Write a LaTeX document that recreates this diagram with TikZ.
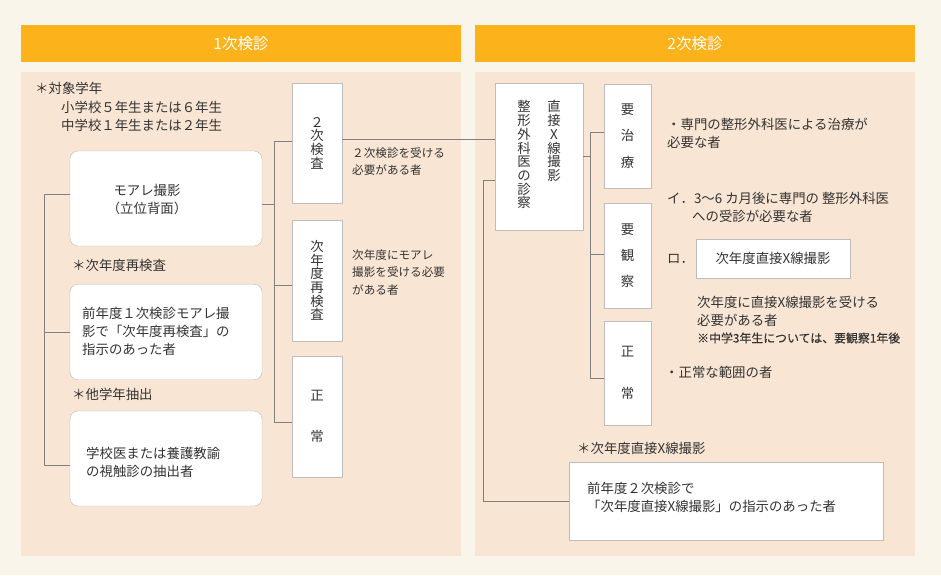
\documentclass[tikz,border=0pt]{standalone}
\usepackage{fontspec}
\setmainfont{Noto Sans CJK JP}
\newfontfamily\notefont[FakeBold=0.25]{Noto Sans CJK JP}
\usetikzlibrary{positioning,calc}
\definecolor{bgcream}{HTML}{FAF5EA}
\definecolor{panel}{HTML}{F8E5D3}
\definecolor{headorange}{HTML}{FBB21B}
\definecolor{boxgray}{HTML}{BDBDBD}
\definecolor{linegray}{HTML}{808080}
\definecolor{txtgray}{HTML}{333333}

\begin{document}
\begin{tikzpicture}[x=1pt,y=-1pt,
  txt/.style={inner sep=0pt,text=txtgray,align=left,font=\fontsize{13.4}{18}\selectfont},
  smalltxt/.style={inner sep=0pt,text=txtgray,align=left,font=\fontsize{11.6}{17.5}\selectfont},
  rbox/.style={draw=boxgray,fill=white,rounded corners=8pt,minimum width=192pt,inner sep=0pt},
  vbox/.style={draw=boxgray,fill=white,inner sep=0pt,text=txtgray,align=center,font=\fontsize{13.4}{13.7}\selectfont},
  conn/.style={draw=linegray,line width=1pt}]

% draw background
\fill[bgcream] (0,0) rectangle (941,575);
\useasboundingbox (0,0) rectangle (941,575);
% draw panels and headers
\foreach \x/\n/\t in {21/h1/1次検診,475/h2/2次検診}{
  \fill[panel] (\x,72) rectangle ++(440,484);
  \node[fill=headorange,text=white,minimum width=440pt,minimum height=37pt,inner sep=0pt,font=\fontsize{15.5}{18}\selectfont] (\n) at (\x+220,43.5) {\t};
}

% draw left nodes
\node[txt,anchor=west] (target) at (35,88) {＊対象学年};
\node[txt,anchor=west] (grades) at (61,116) {小学校５年生または６年生\\中学校１年生または２年生};
\node[rbox,minimum height=95pt] (moare) at (166,198.5) {};
\node[txt,align=center] (moaret) at (147,200) {モアレ撮影\\（立位背面）};
\node[txt,anchor=west] (retitle) at (72,265) {＊次年度再検査};
\node[rbox,minimum height=95.5pt] (prev) at (166,332) {};
\node[txt,anchor=west] (prevt) at (82,331.5) {前年度１次検診モアレ撮\\影で「次年度再検査」の\\指示のあった者};
\node[txt,anchor=west] (extitle) at (72,394) {＊他学年抽出};
\node[rbox,minimum height=95pt] (extract) at (166,458.5) {};
\node[txt,anchor=west] (extractt) at (86,462) {学校医または養護教諭\\の視触診の抽出者};

% draw first result boxes
\node[vbox,minimum width=50pt,minimum height=120pt] (k2) at (317,143) {２\\次\\検\\査};
\node[vbox,minimum width=50pt,minimum height=121pt] (kr) at (317,280.5) {次\\年\\度\\再\\検\\査};
\node[vbox,minimum width=50pt,minimum height=121pt,font=\fontsize{13.4}{41}\selectfont] (ks) at (317,416.5) {正\\常};
\node[smalltxt,anchor=west] (k2t) at (352,161.5) {２次検診を受ける\\必要がある者};
\node[smalltxt,anchor=west] (krt) at (352,272.5) {次年度にモアレ\\撮影を受ける必要\\がある者};

% draw right nodes
\node[vbox,minimum width=88pt,minimum height=147pt] (xray) at (539,156.5) {};
\node[vbox,draw=none,fill=none,anchor=north] (xrayr) at (554,100.5) {直\\接\\X\\線\\撮\\影};
\node[vbox,draw=none,fill=none,anchor=north] (xrayl) at (524,100.5) {整\\形\\外\\科\\医\\の\\診\\察};
\node[vbox,minimum width=47pt,minimum height=104pt,font=\fontsize{13.4}{26.5}\selectfont] (yo) at (627.5,136) {要\\治\\療};
\node[vbox,minimum width=47pt,minimum height=105pt,font=\fontsize{13.4}{26}\selectfont] (kan) at (627.5,255.5) {要\\観\\察};
\node[vbox,minimum width=47pt,minimum height=104pt,font=\fontsize{13.4}{42}\selectfont] (sei) at (627.5,373) {正\\常};
\node[txt,anchor=west] (yot) at (667,133) {・専門の整形外科医による治療が\\必要な者};
\node[txt,anchor=west] (kant) at (667,207) {イ．3～6 カ月後に専門の 整形外科医\\\hspace*{25pt}への受診が必要な者};
\node[txt,anchor=west] (ro) at (667,259) {ロ．};
\node[vbox,minimum width=154pt,minimum height=39pt,font=\fontsize{13.4}{18}\selectfont] (nextx) at (773,258.5) {次年度直接X線撮影};
\node[txt,anchor=west] (kannote) at (697,311) {次年度に直接X線撮影を受ける\\必要がある者};
\node[txt,anchor=west,font=\fontsize{11.9}{14}\notefont] (kannote2) at (697,338) {※中学3年生については、要観察1年後};
\node[txt,anchor=west] (seit) at (665,372) {・正常な範囲の者};
\node[txt,anchor=west] (lasttitle) at (577,448) {＊次年度直接X線撮影};
\node[vbox,minimum width=314pt,minimum height=78pt] (last) at (726,501) {};
\node[txt,anchor=west] (lastt) at (587,497.5) {前年度２次検診で\\「次年度直接X線撮影」の指示のあった者};

% draw left connectors
\draw[conn] ([yshift=4.5pt]moare.west) -- ++(-25,0) coordinate (ltop) |- ([yshift=-6.5pt]extract.west);
\draw[conn] (prev.west) -- (prev.west -| ltop);
\draw[conn] ([yshift=2pt]k2.west) -- ++(-17,0) coordinate (mtop) |- ([yshift=-5.5pt]ks.west);
\draw[conn] ([yshift=-4.5pt]kr.west) coordinate (a) -- (a -| mtop);
\draw[conn] ([yshift=-5.5pt]moare.east) coordinate (b) -- (b -| mtop);
\draw[conn] ([yshift=4pt]k2.east) coordinate (c) -- (c -| xray.west);

% draw right connectors
\draw[conn] ([yshift=-23.5pt]xray.west) -- ++(-11,0) |- (last.west);
\draw[conn] ([yshift=4pt]yo.west) -- ++(-13,0) coordinate (rtop) |- ([yshift=-5pt]sei.west);
\draw[conn] ([yshift=1.5pt]kan.west) coordinate (d) -- (d -| rtop);
\draw[conn] (xray.east) -- (xray.east -| rtop);
\end{tikzpicture}
\end{document}
